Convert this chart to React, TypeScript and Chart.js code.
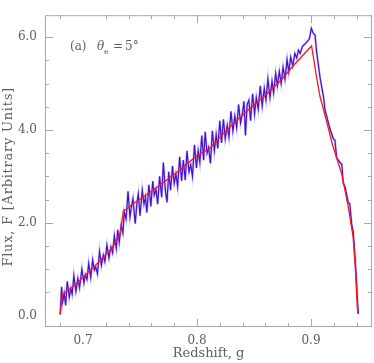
import React, { useEffect, useRef } from "react";
import { Chart, registerables } from "chart.js";

Chart.register(...registerables);

// Model (red) curve
const redZ = [0.680, 0.682, 0.693, 0.7105, 0.725, 0.7325, 0.7355, 0.738, 0.744, 0.760, 0.780, 0.800, 0.811, 0.825, 0.842, 0.860, 0.8728, 0.885, 0.9005, 0.905, 0.908, 0.913, 0.919, 0.927, 0.9325, 0.937, 0.939, 0.941];
const redF = [0.04, 0.45, 0.66, 1.07, 1.44, 1.75, 2.27, 2.29, 2.41, 2.68, 3.04, 3.45, 3.60, 3.97, 4.37, 4.75, 5.05, 5.40, 5.81, 5.12, 4.71, 4.25, 3.67, 3.05, 2.37, 1.69, 0.99, 0.04];

// Observed (blue) spectrum
const blueZ = [
  0.6800, 0.6812, 0.6822, 0.6835, 0.6848, 0.6862, 0.6880, 0.6893, 0.6905, 0.6920,
  0.6938, 0.6955, 0.6970, 0.6990, 0.7008, 0.7020, 0.7035, 0.7050, 0.7068, 0.7085,
  0.7100, 0.7112, 0.7127, 0.7145, 0.7162, 0.7178, 0.7192, 0.7210, 0.7228, 0.7245,
  0.7260, 0.7275, 0.7292, 0.7305, 0.7318, 0.7335, 0.7350, 0.7362, 0.7378, 0.7395,
  0.7412, 0.7425, 0.7438, 0.7458, 0.7472, 0.7485, 0.7500, 0.7520, 0.7535, 0.7548,
  0.7560, 0.7578, 0.7595, 0.7612, 0.7625, 0.7640, 0.7655, 0.7672, 0.7690, 0.7705,
  0.7722, 0.7737, 0.7752, 0.7768, 0.7785, 0.7800, 0.7815, 0.7830, 0.7848, 0.7865,
  0.7880, 0.7897, 0.7912, 0.7930, 0.7945, 0.7960, 0.7978, 0.7995, 0.8010, 0.8025,
  0.8042, 0.8058, 0.8072, 0.8088, 0.8102, 0.8118, 0.8135, 0.8152, 0.8168, 0.8182,
  0.8200, 0.8215, 0.8232, 0.8248, 0.8265, 0.8280, 0.8298, 0.8315, 0.8332, 0.8348,
  0.8365, 0.8382, 0.8398, 0.8412, 0.8425, 0.8440, 0.8455, 0.8470, 0.8488, 0.8505,
  0.8520, 0.8537, 0.8555, 0.8572, 0.8590, 0.8605, 0.8622, 0.8640, 0.8658, 0.8672,
  0.8690, 0.8705, 0.8722, 0.8738, 0.8755, 0.8772, 0.8790, 0.8805, 0.8822, 0.8840,
  0.8858, 0.8875, 0.8890, 0.8905, 0.8925, 0.8945, 0.8965, 0.8985, 0.9003, 0.9020,
  0.9035, 0.9050, 0.9080, 0.9110, 0.9123, 0.9167, 0.9196, 0.9210, 0.9225, 0.9254,
  0.9270, 0.9283, 0.9298, 0.9327, 0.9340, 0.9357, 0.9370, 0.9386, 0.9400, 0.9406,
  0.9415
];
const blueF = [
  0.02, 0.62, 0.30, 0.48, 0.22, 0.74, 0.40, 0.58, 0.46, 0.86,
  0.52, 0.80, 0.60, 1.00, 0.70, 0.88, 0.78, 1.12, 0.82, 1.20,
  0.98, 1.05, 0.90, 1.38, 1.08, 1.30, 1.16, 1.52, 1.24, 1.48,
  1.35, 1.72, 1.45, 1.85, 1.58, 1.95, 1.78, 2.23, 2.08, 2.68,
  2.12, 2.35, 2.52, 1.98, 2.40, 2.62, 2.15, 2.70, 2.40, 2.55,
  2.22, 2.82, 2.35, 2.90, 2.60, 2.72, 2.40, 3.00, 2.55, 3.30,
  2.70, 2.44, 3.10, 2.70, 3.22, 2.85, 3.05, 2.78, 3.42, 2.90,
  3.35, 2.92, 3.55, 3.10, 3.25, 3.00, 3.68, 3.18, 3.55, 3.30,
  3.88, 3.35, 3.96, 3.50, 3.62, 3.28, 3.98, 3.55, 3.90, 3.60,
  4.20, 3.72, 4.23, 3.81, 4.10, 3.85, 4.40, 3.98, 4.30, 4.05,
  4.55, 4.15, 4.35, 4.62, 3.88, 4.55, 4.64, 4.20, 4.78, 4.35,
  4.70, 4.45, 4.95, 4.52, 4.90, 4.65, 5.10, 4.70, 5.05, 4.80,
  5.22, 4.95, 5.26, 5.00, 5.35, 5.10, 5.52, 5.25, 5.57, 5.38,
  5.65, 5.55, 5.72, 5.65, 5.80, 5.85, 5.90, 5.96, 6.19, 6.08,
  6.05, 5.67, 5.12, 4.71, 4.43, 4.02, 3.81, 3.78, 3.40, 3.30,
  3.26, 2.85, 2.78, 2.44, 2.41, 1.96, 1.82, 1.27, 0.72, 0.38,
  0.04
];

const xLabelTicks = [0.7, 0.8, 0.9];
const xMarkTicks = [0.68, 0.72, 0.74, 0.76, 0.78, 0.8, 0.82, 0.84, 0.86, 0.88, 0.9, 0.92, 0.94];
const xMajorTicks = [0.8, 0.9];
const yLabelTicks = [0, 2, 4, 6];
const yMarkTicks = [0.5, 1, 1.5, 2, 2.5, 3, 3.5, 4, 4.5, 5, 5.5, 6];
const yMajorTicks = [2, 4, 6];
const yTitle = "Flux, F [Arbitrary Units]";
const xTitle = "Redshift, g";

const FONT = "'DejaVu Serif', 'Liberation Serif', serif";
const TEXT = "#5e5e5e";
const AXIS = "#a8a8a8";

const framePlugin = {
  id: "frameTicks",
  beforeDatasetsDraw(chart: any) {
    const { ctx, chartArea: a, scales } = chart;
    const xs = scales.x, ys = scales.y;
    ctx.save();
    ctx.strokeStyle = AXIS;
    ctx.lineWidth = 1;
    ctx.strokeRect(a.left + 0.5, a.top + 0.5, a.right - a.left - 1, a.bottom - a.top - 1);
    ctx.beginPath();
    for (const v of xMarkTicks) {
      const px = Math.round(xs.getPixelForValue(v)) + 0.5;
      const len = xMajorTicks.includes(v) ? 8 : 4;
      ctx.moveTo(px, a.bottom);
      ctx.lineTo(px, a.bottom - len);
      ctx.moveTo(px, a.top);
      ctx.lineTo(px, a.top + len);
    }
    for (const v of yMarkTicks) {
      const py = Math.round(ys.getPixelForValue(v)) + 0.5;
      const len = yMajorTicks.includes(v) ? 8 : 4;
      ctx.moveTo(a.left, py);
      ctx.lineTo(a.left + len, py);
      ctx.moveTo(a.right, py);
      ctx.lineTo(a.right - len, py);
    }
    ctx.stroke();
    ctx.restore();
  },
  afterDraw(chart: any) {
    const { ctx, scales } = chart;
    // y-axis title (drawn with letter spacing to match the wide original lettering)
    ctx.save();
    ctx.fillStyle = TEXT;
    ctx.font = `13px ${FONT}`;
    (ctx as any).letterSpacing = "0.75px";
    ctx.textAlign = "center";
    ctx.textBaseline = "middle";
    ctx.translate(9, scales.y.getPixelForValue(2.99));
    ctx.rotate(-Math.PI / 2);
    ctx.fillText(yTitle, 0, 0);
    ctx.restore();

    // panel annotation
    const x0 = scales.x.getPixelForValue(0.6886);
    const y0 = scales.y.getPixelForValue(5.73);
    ctx.save();
    ctx.fillStyle = TEXT;
    ctx.textBaseline = "alphabetic";
    ctx.font = `12px ${FONT}`;
    ctx.fillText("(a)", x0, y0);
    ctx.font = `italic 12px ${FONT}`;
    ctx.fillText("\u03B8", x0 + 27, y0);
    ctx.font = `8px ${FONT}`;
    ctx.fillText("e", x0 + 34, y0 + 4);
    ctx.font = `12px ${FONT}`;
    ctx.fillText("=", x0 + 43, y0);
    ctx.fillText("5\u00B0", x0 + 55, y0);
    ctx.restore();
  },
};

export default function App() {
  const ref = useRef<HTMLCanvasElement>(null);
  useEffect(() => {
    document.body.style.margin = "0";
    const red = redZ.map((z, i) => ({ x: z, y: redF[i] }));
    const blue = blueZ.map((z, i) => ({ x: z, y: blueF[i] }));
    const chart = new Chart(ref.current!, {
      type: "line",
      data: {
        datasets: [
          { label: "Model", data: red, borderColor: "#ff1414", borderWidth: 1.3, pointRadius: 0, tension: 0 },
          { label: "Observed", data: blue, borderColor: "#4410d0", borderWidth: 1.2, pointRadius: 0, tension: 0 },
          { label: "Observed halo", data: blue, borderColor: "rgba(150,125,235,0.45)", borderWidth: 2.4, pointRadius: 0, tension: 0 },
        ],
      },
      options: {
        animation: false,
        responsive: true,
        maintainAspectRatio: false,
        layout: { padding: { top: 1, right: 2, left: 0, bottom: 0 } },
        plugins: { legend: { display: false }, tooltip: { enabled: false } },
        scales: {
          x: {
            type: "linear",
            min: 0.66667,
            max: 0.95351,
            grid: { display: false, drawTicks: false },
            border: { display: false },
            afterBuildTicks: (s: any) => { s.ticks = xLabelTicks.map((v) => ({ value: v })); },
            afterFit: (s: any) => { s.height = 36; },
            ticks: {
              padding: 7,
              maxRotation: 0,
              color: TEXT,
              font: { family: FONT, size: 12 },
              callback: (v: any) => Number(v).toFixed(1),
            },
            title: {
              display: true,
              text: xTitle,
              color: TEXT,
              font: { family: FONT, size: 13 },
              padding: { top: 0, bottom: 2 },
            },
          },
          y: {
            type: "linear",
            min: -0.247,
            max: 6.474,
            grid: { display: false, drawTicks: false },
            border: { display: false },
            afterBuildTicks: (s: any) => { s.ticks = yLabelTicks.map((v) => ({ value: v })); },
            afterFit: (s: any) => { s.width = 45; },
            ticks: {
              padding: 8,
              color: TEXT,
              font: { family: FONT, size: 12 },
              callback: (v: any) => Number(v).toFixed(1),
            },
            title: { display: false, text: yTitle },
          },
        },
      },
      plugins: [framePlugin],
    });
    return () => chart.destroy();
  }, []);
  return (
    <div style={{ position: "fixed", left: 0, top: 0, width: 374, height: 363 }}>
      <canvas ref={ref} />
    </div>
  );
}
